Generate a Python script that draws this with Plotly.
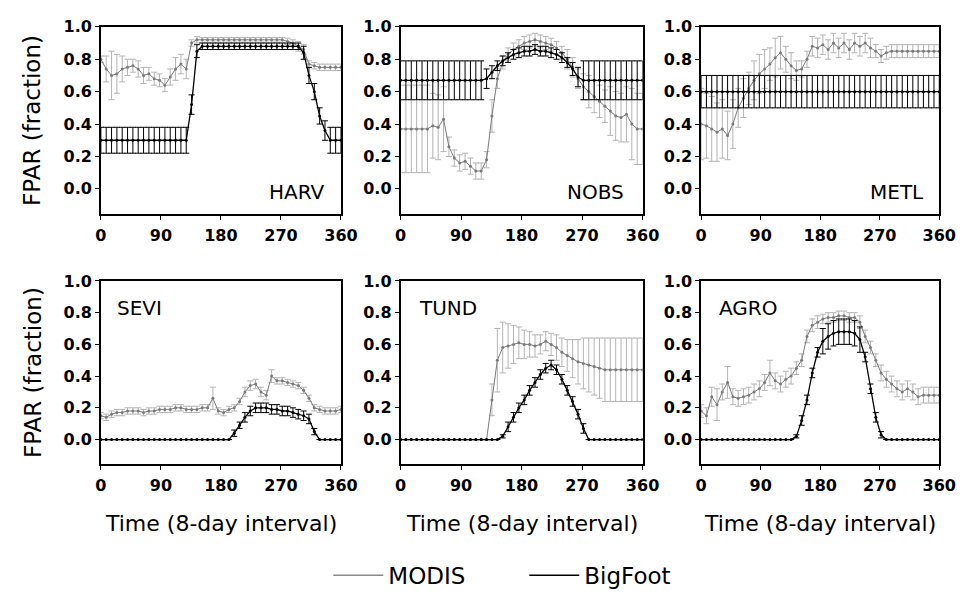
# -*- coding: utf-8 -*-

import plotly.graph_objs as go
import plotly.subplots as subp


DAYS = [0, 8, 16, 24, 32, 40, 48, 56, 64, 72, 80, 88, 96, 104, 112, 120,
        128, 136, 144, 152, 160, 168, 176, 184, 192, 200, 208, 216, 224,
        232, 240, 248, 256, 264, 272, 280, 288, 296, 304, 312, 320, 328,
        336, 344, 352, 360]

SITES = ["HARV", "NOBS", "METL", "SEVI", "TUND", "AGRO"]
X_TICKS = [0, 90, 180, 270, 360]
Y_TICKS = [0.0, 0.2, 0.4, 0.6, 0.8, 1.0]

# HARV
HARV_MODIS = [0.80, 0.74, 0.70, 0.71, 0.74, 0.75, 0.76, 0.74, 0.70, 0.71,
              0.68, 0.67, 0.64, 0.69, 0.74, 0.77, 0.74, 0.90, 0.92, 0.92,
              0.92, 0.92, 0.92, 0.92, 0.92, 0.92, 0.92, 0.92, 0.92, 0.92,
              0.92, 0.92, 0.92, 0.92, 0.92, 0.91, 0.90, 0.88, 0.86, 0.77,
              0.76, 0.75, 0.75, 0.75, 0.75, 0.75]
HARV_MODIS_ERR = [0.02, 0.08, 0.15, 0.12, 0.08, 0.05, 0.04, 0.05, 0.05, 0.04,
                  0.04, 0.04, 0.04, 0.05, 0.07, 0.06, 0.06, 0.02, 0.02, 0.015,
                  0.015, 0.015, 0.015, 0.015, 0.015, 0.015, 0.015, 0.015, 0.015, 0.015,
                  0.015, 0.015, 0.015, 0.015, 0.015, 0.02, 0.02, 0.03, 0.03, 0.02,
                  0.02, 0.02, 0.02, 0.02, 0.02, 0.02]
HARV_BIGFOOT = [0.30, 0.30, 0.30, 0.30, 0.30, 0.30, 0.30, 0.30, 0.30, 0.30,
                0.30, 0.30, 0.30, 0.30, 0.30, 0.30, 0.30, 0.52, 0.85, 0.88,
                0.88, 0.88, 0.88, 0.88, 0.88, 0.88, 0.88, 0.88, 0.88, 0.88,
                0.88, 0.88, 0.88, 0.88, 0.88, 0.88, 0.88, 0.88, 0.84, 0.70,
                0.60, 0.45, 0.36, 0.30, 0.30, 0.30]
HARV_BIGFOOT_ERR = [0.08, 0.08, 0.08, 0.08, 0.08, 0.08, 0.08, 0.08, 0.08, 0.08,
                    0.08, 0.08, 0.08, 0.08, 0.08, 0.08, 0.08, 0.06, 0.04, 0.02,
                    0.02, 0.02, 0.02, 0.02, 0.02, 0.02, 0.02, 0.02, 0.02, 0.02,
                    0.02, 0.02, 0.02, 0.02, 0.02, 0.02, 0.02, 0.02, 0.04, 0.05,
                    0.05, 0.05, 0.06, 0.08, 0.08, 0.08]

# NOBS
NOBS_MODIS = [0.37, 0.37, 0.37, 0.37, 0.37, 0.37, 0.39, 0.38, 0.43, 0.26,
              0.19, 0.16, 0.17, 0.14, 0.11, 0.11, 0.18, 0.45, 0.68, 0.78,
              0.83, 0.86, 0.88, 0.90, 0.91, 0.92, 0.91, 0.90, 0.89, 0.87,
              0.84, 0.80, 0.75, 0.68, 0.63, 0.60, 0.57, 0.54, 0.51, 0.48,
              0.45, 0.44, 0.46, 0.40, 0.37, 0.37]
NOBS_MODIS_ERR = [0.27, 0.27, 0.27, 0.27, 0.27, 0.27, 0.20, 0.20, 0.20, 0.06,
                  0.05, 0.05, 0.05, 0.05, 0.05, 0.05, 0.05, 0.10, 0.06, 0.04,
                  0.04, 0.04, 0.04, 0.04, 0.04, 0.04, 0.04, 0.04, 0.04, 0.04,
                  0.04, 0.06, 0.06, 0.06, 0.08, 0.10, 0.10, 0.10, 0.10, 0.15,
                  0.15, 0.15, 0.17, 0.22, 0.22, 0.22]
NOBS_BIGFOOT = [0.67, 0.67, 0.67, 0.67, 0.67, 0.67, 0.67, 0.67, 0.67, 0.67,
                0.67, 0.67, 0.67, 0.67, 0.67, 0.67, 0.68, 0.72, 0.76, 0.79,
                0.81, 0.83, 0.84, 0.85, 0.85, 0.86, 0.85, 0.85, 0.84, 0.83,
                0.81, 0.78, 0.74, 0.69, 0.67, 0.67, 0.67, 0.67, 0.67, 0.67,
                0.67, 0.67, 0.67, 0.67, 0.67, 0.67]
NOBS_BIGFOOT_ERR = [0.12, 0.12, 0.12, 0.12, 0.12, 0.12, 0.12, 0.12, 0.12, 0.12,
                    0.12, 0.12, 0.12, 0.12, 0.12, 0.12, 0.06, 0.04, 0.03, 0.03,
                    0.03, 0.03, 0.03, 0.03, 0.03, 0.03, 0.03, 0.03, 0.03, 0.03,
                    0.03, 0.03, 0.04, 0.06, 0.12, 0.12, 0.12, 0.12, 0.12, 0.12,
                    0.12, 0.12, 0.12, 0.12, 0.12, 0.12]

# METL
METL_MODIS = [0.40, 0.39, 0.37, 0.35, 0.37, 0.33, 0.40, 0.50, 0.56, 0.62,
              0.67, 0.71, 0.74, 0.77, 0.81, 0.84, 0.80, 0.76, 0.73, 0.74,
              0.80, 0.88, 0.87, 0.89, 0.86, 0.90, 0.87, 0.90, 0.86, 0.90,
              0.88, 0.90, 0.87, 0.85, 0.82, 0.84, 0.85, 0.85, 0.85, 0.85,
              0.85, 0.85, 0.85, 0.85, 0.85, 0.85]
METL_MODIS_ERR = [0.22, 0.20, 0.20, 0.18, 0.18, 0.15, 0.15, 0.12, 0.12, 0.10,
                  0.12, 0.12, 0.12, 0.10, 0.12, 0.10, 0.08, 0.08, 0.06, 0.05,
                  0.05, 0.06, 0.06, 0.06, 0.06, 0.06, 0.06, 0.06, 0.06, 0.06,
                  0.06, 0.06, 0.06, 0.04, 0.04, 0.04, 0.04, 0.04, 0.04, 0.04,
                  0.04, 0.04, 0.04, 0.04, 0.04, 0.04]
METL_BIGFOOT = [0.60, 0.60, 0.60, 0.60, 0.60, 0.60, 0.60, 0.60, 0.60, 0.60,
                0.60, 0.60, 0.60, 0.60, 0.60, 0.60, 0.60, 0.60, 0.60, 0.60,
                0.60, 0.60, 0.60, 0.60, 0.60, 0.60, 0.60, 0.60, 0.60, 0.60,
                0.60, 0.60, 0.60, 0.60, 0.60, 0.60, 0.60, 0.60, 0.60, 0.60,
                0.60, 0.60, 0.60, 0.60, 0.60, 0.60]
METL_BIGFOOT_ERR = [0.10, 0.10, 0.10, 0.10, 0.10, 0.10, 0.10, 0.10, 0.10, 0.10,
                    0.10, 0.10, 0.10, 0.10, 0.10, 0.10, 0.10, 0.10, 0.10, 0.10,
                    0.10, 0.10, 0.10, 0.10, 0.10, 0.10, 0.10, 0.10, 0.10, 0.10,
                    0.10, 0.10, 0.10, 0.10, 0.10, 0.10, 0.10, 0.10, 0.10, 0.10,
                    0.10, 0.10, 0.10, 0.10, 0.10, 0.10]

# SEVI
SEVI_MODIS = [0.15, 0.14, 0.16, 0.17, 0.17, 0.18, 0.18, 0.18, 0.17, 0.18,
              0.18, 0.19, 0.19, 0.19, 0.20, 0.20, 0.19, 0.19, 0.19, 0.20,
              0.20, 0.26, 0.18, 0.17, 0.19, 0.20, 0.24, 0.30, 0.34, 0.35,
              0.30, 0.28, 0.40, 0.37, 0.37, 0.36, 0.35, 0.34, 0.31, 0.26,
              0.20, 0.19, 0.18, 0.18, 0.18, 0.19]
SEVI_MODIS_ERR = [0.02, 0.02, 0.02, 0.02, 0.02, 0.02, 0.02, 0.02, 0.02, 0.02,
                  0.02, 0.02, 0.02, 0.02, 0.02, 0.02, 0.02, 0.02, 0.02, 0.02,
                  0.02, 0.07, 0.02, 0.02, 0.02, 0.02, 0.02, 0.03, 0.03, 0.03,
                  0.03, 0.03, 0.04, 0.02, 0.02, 0.02, 0.02, 0.02, 0.02, 0.02,
                  0.02, 0.02, 0.02, 0.02, 0.02, 0.02]
SEVI_BIGFOOT = [0.0, 0.0, 0.0, 0.0, 0.0, 0.0, 0.0, 0.0, 0.0, 0.0,
                0.0, 0.0, 0.0, 0.0, 0.0, 0.0, 0.0, 0.0, 0.0, 0.0,
                0.0, 0.0, 0.0, 0.0, 0.0, 0.04, 0.09, 0.14, 0.18, 0.20,
                0.20, 0.20, 0.19, 0.19, 0.18, 0.18, 0.17, 0.16, 0.15, 0.13,
                0.05, 0.0, 0.0, 0.0, 0.0, 0.0]
SEVI_BIGFOOT_ERR = [0.0, 0.0, 0.0, 0.0, 0.0, 0.0, 0.0, 0.0, 0.0, 0.0,
                    0.0, 0.0, 0.0, 0.0, 0.0, 0.0, 0.0, 0.0, 0.0, 0.0,
                    0.0, 0.0, 0.0, 0.0, 0.0, 0.02, 0.02, 0.03, 0.03, 0.03,
                    0.03, 0.03, 0.03, 0.03, 0.03, 0.03, 0.03, 0.03, 0.03, 0.03,
                    0.02, 0.0, 0.0, 0.0, 0.0, 0.0]

# TUND
TUND_MODIS = [0.0, 0.0, 0.0, 0.0, 0.0, 0.0, 0.0, 0.0, 0.0, 0.0,
              0.0, 0.0, 0.0, 0.0, 0.0, 0.0, 0.0, 0.25, 0.50, 0.58,
              0.59, 0.60, 0.61, 0.60, 0.60, 0.59, 0.60, 0.62, 0.60, 0.58,
              0.55, 0.53, 0.51, 0.49, 0.48, 0.47, 0.46, 0.45, 0.44, 0.44,
              0.44, 0.44, 0.44, 0.44, 0.44, 0.44]
TUND_MODIS_ERR = [0.0, 0.0, 0.0, 0.0, 0.0, 0.0, 0.0, 0.0, 0.0, 0.0,
                  0.0, 0.0, 0.0, 0.0, 0.0, 0.0, 0.0, 0.10, 0.20, 0.16,
                  0.14, 0.12, 0.10, 0.09, 0.08, 0.07, 0.06, 0.06, 0.07, 0.08,
                  0.09, 0.10, 0.12, 0.14, 0.16, 0.17, 0.18, 0.19, 0.20, 0.20,
                  0.20, 0.20, 0.20, 0.20, 0.20, 0.20]
TUND_BIGFOOT = [0.0, 0.0, 0.0, 0.0, 0.0, 0.0, 0.0, 0.0, 0.0, 0.0,
                0.0, 0.0, 0.0, 0.0, 0.0, 0.0, 0.0, 0.0, 0.0, 0.02,
                0.08, 0.14, 0.20, 0.25, 0.31, 0.36, 0.41, 0.45, 0.47, 0.44,
                0.38, 0.31, 0.24, 0.16, 0.07, 0.0, 0.0, 0.0, 0.0, 0.0,
                0.0, 0.0, 0.0, 0.0, 0.0, 0.0]
TUND_BIGFOOT_ERR = [0.0, 0.0, 0.0, 0.0, 0.0, 0.0, 0.0, 0.0, 0.0, 0.0,
                    0.0, 0.0, 0.0, 0.0, 0.0, 0.0, 0.0, 0.0, 0.0, 0.01,
                    0.03, 0.03, 0.03, 0.03, 0.03, 0.03, 0.03, 0.03, 0.03, 0.03,
                    0.03, 0.03, 0.03, 0.03, 0.03, 0.0, 0.0, 0.0, 0.0, 0.0,
                    0.0, 0.0, 0.0, 0.0, 0.0, 0.0]

# AGRO
AGRO_MODIS = [0.18, 0.15, 0.27, 0.22, 0.30, 0.36, 0.27, 0.26, 0.27, 0.28,
              0.30, 0.32, 0.36, 0.42, 0.37, 0.35, 0.38, 0.40, 0.45, 0.50,
              0.65, 0.72, 0.74, 0.76, 0.77, 0.77, 0.78, 0.78, 0.77, 0.77,
              0.74, 0.65, 0.58, 0.50, 0.42, 0.38, 0.35, 0.32, 0.30, 0.32,
              0.30, 0.27, 0.28, 0.28, 0.28, 0.28]
AGRO_MODIS_ERR = [0.04, 0.05, 0.06, 0.10, 0.05, 0.10, 0.05, 0.05, 0.05, 0.05,
                  0.05, 0.05, 0.05, 0.08, 0.05, 0.05, 0.05, 0.05, 0.04, 0.04,
                  0.04, 0.04, 0.04, 0.03, 0.03, 0.03, 0.03, 0.03, 0.03, 0.03,
                  0.04, 0.04, 0.04, 0.04, 0.05, 0.05, 0.05, 0.05, 0.05, 0.05,
                  0.05, 0.05, 0.05, 0.05, 0.05, 0.05]
AGRO_BIGFOOT = [0.0, 0.0, 0.0, 0.0, 0.0, 0.0, 0.0, 0.0, 0.0, 0.0,
                0.0, 0.0, 0.0, 0.0, 0.0, 0.0, 0.0, 0.0, 0.02, 0.12,
                0.25, 0.42, 0.55, 0.62, 0.65, 0.67, 0.68, 0.68, 0.68, 0.67,
                0.63, 0.52, 0.32, 0.14, 0.03, 0.0, 0.0, 0.0, 0.0, 0.0,
                0.0, 0.0, 0.0, 0.0, 0.0, 0.0]
AGRO_BIGFOOT_ERR = [0.0, 0.0, 0.0, 0.0, 0.0, 0.0, 0.0, 0.0, 0.0, 0.0,
                    0.0, 0.0, 0.0, 0.0, 0.0, 0.0, 0.0, 0.0, 0.01, 0.03,
                    0.03, 0.03, 0.03, 0.08, 0.08, 0.08, 0.08, 0.08, 0.08, 0.08,
                    0.08, 0.03, 0.03, 0.03, 0.02, 0.0, 0.0, 0.0, 0.0, 0.0,
                    0.0, 0.0, 0.0, 0.0, 0.0, 0.0]


PANELS = [
    (HARV_MODIS, HARV_MODIS_ERR, HARV_BIGFOOT, HARV_BIGFOOT_ERR),
    (NOBS_MODIS, NOBS_MODIS_ERR, NOBS_BIGFOOT, NOBS_BIGFOOT_ERR),
    (METL_MODIS, METL_MODIS_ERR, METL_BIGFOOT, METL_BIGFOOT_ERR),
    (SEVI_MODIS, SEVI_MODIS_ERR, SEVI_BIGFOOT, SEVI_BIGFOOT_ERR),
    (TUND_MODIS, TUND_MODIS_ERR, TUND_BIGFOOT, TUND_BIGFOOT_ERR),
    (AGRO_MODIS, AGRO_MODIS_ERR, AGRO_BIGFOOT, AGRO_BIGFOOT_ERR),
]

# the html body keeps an 8px margin round the figure, so the figure is
# made 16px narrower and every position below is page px - 8
W, H = 960, 594
FONT = "DejaVu Sans"
COL_PX = [(89, 335), (396, 644), (704, 948)]
ROW_PX = [(10, 200), (268, 454)]


def add_series(fig, row, col, y, err, line_color, err_color, width):
    fig.add_trace(
        go.Scatter(
            x=DAYS,
            y=y,
            mode="lines+markers",
            line=dict(color=line_color, width=width),
            marker=dict(color=line_color, size=3),
            error_y=dict(
                type="data",
                array=err,
                visible=True,
                color=err_color,
                thickness=1,
                width=3,
            ),
            showlegend=False,
        ),
        row,
        col,
    )


def main():
    fig = subp.make_subplots(rows=2, cols=3)

    for n, (modis, modis_err, bigfoot, bigfoot_err) in enumerate(PANELS):
        row = n // 3 + 1
        col = n % 3 + 1
        add_series(fig, row, col, modis, modis_err, "#7a7a7a", "#b4b4b4", 1)
        add_series(fig, row, col, bigfoot, bigfoot_err, "#000000", "#000000", 1.3)

    # legend only entries
    fig.add_trace(go.Scatter(x=[None], y=[None], mode="lines", name="MODIS",
                             line=dict(color="#8a8a8a", width=1.5)))
    fig.add_trace(go.Scatter(x=[None], y=[None], mode="lines", name="BigFoot",
                             line=dict(color="#000000", width=1.5)))

    axis_common = dict(
        showline=True,
        mirror=True,
        linecolor="black",
        linewidth=1.5,
        ticks="outside",
        ticklen=4,
        tickcolor="black",
        showgrid=False,
        zeroline=False,
        tickfont=dict(family=FONT, size=16, color="black", weight="bold"),
    )

    layout = {}
    for n in range(6):
        r = n // 3
        c = n % 3
        suffix = "" if n == 0 else str(n + 1)
        left, right = COL_PX[c]
        top, bottom = ROW_PX[r]
        layout["xaxis" + suffix] = dict(
            domain=[left / W, right / W],
            range=[0, 360],
            tickvals=X_TICKS,
            ticklabelstandoff=2,
            **axis_common,
        )
        layout["yaxis" + suffix] = dict(
            domain=[1 - bottom / H, 1 - top / H],
            range=[-0.155, 1.0],
            tickvals=Y_TICKS,
            tickformat=".1f",
            **axis_common,
        )
    fig.update_layout(**layout)

    annotations = []
    label_pos = [
        (0.94, 0.12, "right"), (0.93, 0.12, "right"), (0.945, 0.12, "right"),
        (0.06, 0.85, "left"), (0.07, 0.85, "left"), (0.065, 0.85, "left"),
    ]
    for n, site in enumerate(SITES):
        suffix = "" if n == 0 else str(n + 1)
        x, y, anchor = label_pos[n]
        annotations.append(dict(
            text=site, xref="x" + suffix + " domain", yref="y" + suffix + " domain",
            x=x, y=y, xanchor=anchor, yanchor="middle", showarrow=False,
            font=dict(family=FONT, size=20, color="black"),
        ))

    for c in range(3):
        left, right = COL_PX[c]
        annotations.append(dict(
            text="Time (8-day interval)", xref="paper", yref="paper",
            x=(left + right) / 2 / W, y=1 - 514 / H,
            xanchor="center", yanchor="middle", showarrow=False,
            font=dict(family=FONT, size=22, color="black"),
        ))

    for r in range(2):
        top, bottom = ROW_PX[r]
        annotations.append(dict(
            text="FPAR (fraction)", xref="paper", yref="paper",
            x=19 / W, y=1 - (top + bottom) / 2 / H, textangle=-90,
            xanchor="center", yanchor="middle", showarrow=False,
            font=dict(family=FONT, size=23, color="black"),
        ))

    fig.update_layout(
        width=W,
        height=H,
        margin=dict(l=0, r=0, t=0, b=0),
        plot_bgcolor="white",
        paper_bgcolor="white",
        annotations=annotations,
        legend=dict(
            orientation="h",
            x=322 / W,
            xanchor="left",
            y=1 - 567 / H,
            yanchor="middle",
            itemwidth=50,
            entrywidth=131,
            entrywidthmode="pixels",
            font=dict(family=FONT, size=23, color="black"),
        ),
    )

    fig.write_html("out.html")


if __name__ == "__main__":
    main()
